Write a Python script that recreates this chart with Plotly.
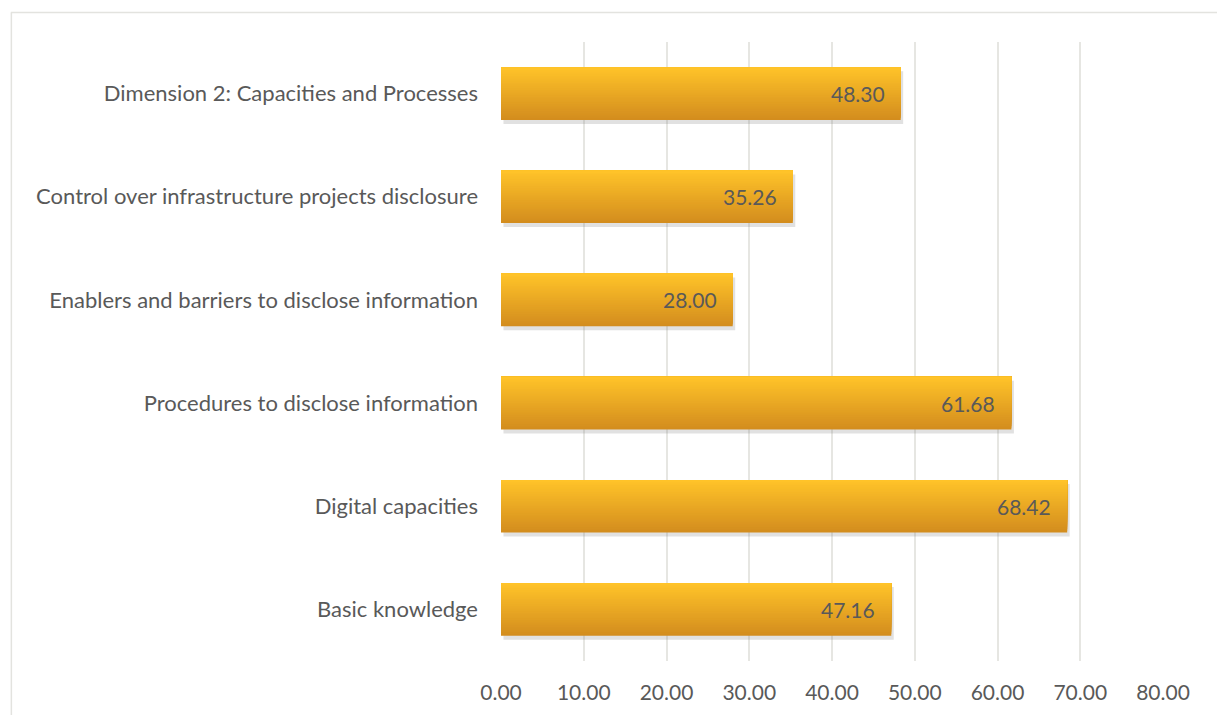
import plotly.graph_objects as go

# Sub-indicator scores, listed bottom to top
categories = [
    "Basic knowledge",
    "Digital capacities",
    "Procedures to disclose information",
    "Enablers and barriers to disclose information",
    "Control over infrastructure projects disclosure",
    "Dimension 2: Capacities and Processes",
]
scores = [47.16, 68.42, 61.68, 28.00, 35.26, 48.30]
x_ticks = [0, 10, 20, 30, 40, 50, 60, 70, 80]

W, H = 1217, 715
L, R, T, B = 500.5, 54, 42, 54
plot_h = H - T - B
cat_px = plot_h / len(categories)

BAR_W = 0.51
N_STRIPS = 30
TOP_RGB = (255, 195, 41)
BOT_RGB = (211, 141, 30)
TEXT = "#595959"
FONT = "Lato"

fig = go.Figure()

# soft drop shadow under each bar
fig.add_trace(go.Bar(
    y=categories, x=scores, orientation="h",
    base=0.3, width=BAR_W, offset=-BAR_W / 2 - 4 / cat_px,
    marker=dict(color="rgba(120,120,120,0.22)", line=dict(width=0)),
    hoverinfo="skip", showlegend=False,
))

# vertical gradient: each strip runs from its lower edge up to the bar top,
# lighter strips drawn over darker ones so no seams appear
for i in range(N_STRIPS):
    t = i / (N_STRIPS - 1)  # 0 bottom -> 1 top
    rgb = tuple(round(BOT_RGB[k] + (TOP_RGB[k] - BOT_RGB[k]) * t) for k in range(3))
    lower = -BAR_W / 2 + i * BAR_W / N_STRIPS
    fig.add_trace(go.Bar(
        y=categories, x=scores, orientation="h",
        width=BAR_W / 2 - lower,
        offset=lower,
        marker=dict(color="rgb(%d,%d,%d)" % rgb, line=dict(width=0)),
        hoverinfo="skip", showlegend=False,
    ))

annotations = [
    dict(x=v, y=c, xref="x", yref="y", text=f"{v:.2f}", showarrow=False,
         xanchor="right", xshift=-14, font=dict(family=FONT, size=21, color=TEXT))
    for c, v in zip(categories, scores)
]

plot_w = W - L - R
fig.update_layout(
    width=W, height=H,
    margin=dict(l=L, r=R, t=T, b=B),
    paper_bgcolor="white", plot_bgcolor="white",
    barmode="overlay",
    font=dict(family=FONT, size=21, color=TEXT),
    annotations=annotations,
    xaxis=dict(
        range=[0, 80], tickvals=x_ticks, ticktext=[f"{v:.2f}" for v in x_ticks],
        showgrid=True, gridcolor="#e6e6e2", gridwidth=1.5,
        zeroline=False, showline=False, ticks="", ticklabelstandoff=17,
        tickfont=dict(family=FONT, size=21, color=TEXT),
    ),
    yaxis=dict(
        type="category", categoryorder="array", categoryarray=categories,
        range=[-0.5, len(categories) - 0.5],
        showgrid=False, zeroline=False, showline=False, ticks="",
        ticklabelstandoff=22,
        tickfont=dict(family=FONT, size=22, color=TEXT),
    ),
    shapes=[
        dict(type="line", xref="paper", yref="paper",
             x0=(10 - L) / plot_w, x1=(W + 5 - L) / plot_w,
             y0=(H - B - 12.5) / plot_h, y1=(H - B - 12.5) / plot_h,
             line=dict(color="#e3e3df", width=1.5)),
        dict(type="line", xref="paper", yref="paper",
             x0=(10.5 - L) / plot_w, x1=(10.5 - L) / plot_w,
             y0=(H - B - 12.5) / plot_h, y1=(H - B - H - 5) / plot_h,
             line=dict(color="#e3e3df", width=1.5)),
    ],
)

fig.write_html("out.html")
